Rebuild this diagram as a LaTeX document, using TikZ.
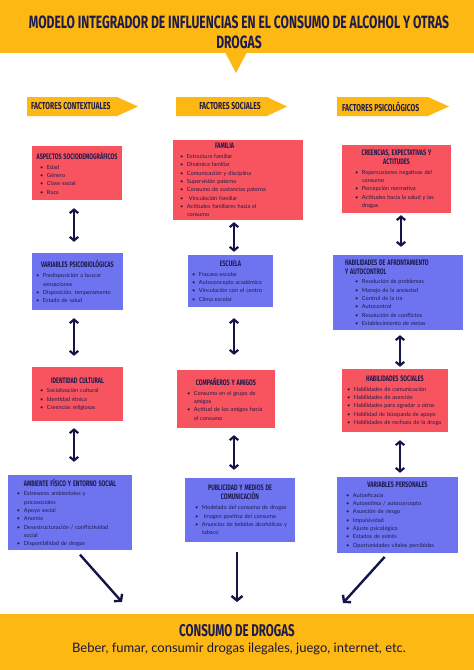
\documentclass[tikz,border=0pt]{standalone}
\usepackage{fontspec}
\setmainfont{Lato}
\newfontfamily\hand[FakeStretch=0.68]{Fira Sans}
\usetikzlibrary{arrows.meta}
\definecolor{ylw}{HTML}{FDB813}
\definecolor{rd}{HTML}{F8545F}
\definecolor{bl}{HTML}{6E74F0}
\definecolor{nv}{HTML}{1E1B4D}
\definecolor{arrc}{HTML}{131447}
\newlength\bind
\newcommand\itm[1]{\hangindent=\dimexpr\bind+7pt\relax\hangafter=1\hspace*{\bind}\makebox[7pt][l]{\textbullet}#1\par}
\newcommand\btc[1]{{\centering\hand\bfseries\fontsize{8}{9}\selectfont #1\par}\vspace{1.5pt}}
\newcommand\btl[2]{{\hand\bfseries\fontsize{8}{9}\selectfont\hspace*{#1}#2\par}\vspace{1.5pt}}
\tikzset{
  box/.style={inner xsep=4pt, inner ysep=3pt, align=left, text=nv,
    font=\fontsize{5.6}{8.3}\selectfont,
    execute at begin node=\setlength{\parindent}{0pt}},
  hdr/.style={text=nv, font=\hand\bfseries\fontsize{10}{11}\selectfont, inner sep=0pt},
  dar/.style={draw=arrc, line width=2.2pt, {Straight Barb[length=3.5pt,width=8.5pt]}-{Straight Barb[length=3.5pt,width=8.5pt]}},
  bar/.style={draw=arrc, line width=2.4pt, -{Straight Barb[length=4.5pt,width=11pt]}}
}
\begin{document}
\begin{tikzpicture}[x=1pt,y=-1pt]
\useasboundingbox (0,0) rectangle (474,670);
\fill[white] (0,0) rectangle (474,670);
% header
\fill[ylw] (0,0) rectangle (474,53);
\fill[ylw] (225,52) -- (247,52) -- (236,73) -- cycle;
\node[text=nv, align=center, font=\hand\bfseries\fontsize{17.8}{20}\selectfont] (title) at (239,32)
  {MODELO INTEGRADOR DE INFLUENCIAS EN EL CONSUMO DE ALCOHOL Y OTRAS\\DROGAS};
% column headers
\fill[ylw] (27,97) -- (117,97) -- (138,106.5) -- (117,116) -- (27,116) -- cycle;
\fill[ylw] (176,97) -- (267,97) -- (287,106.5) -- (267,116) -- (176,116) -- cycle;
\fill[ylw] (337,97) -- (428,97) -- (449,106.5) -- (428,116) -- (337,116) -- cycle;
\node[hdr, anchor=west] (h1) at (31,106.5) {FACTORES CONTEXTUALES};
\node[hdr] (h2) at (230,106.5) {FACTORES SOCIALES};
\node[hdr, anchor=west] (h3) at (342,106.5) {FACTORES PSICOLÓGICOS};
% left column
\node[box, fill=rd, minimum width=90pt, minimum height=54pt, text width=82pt] (a1) at (77,173)
  {\btc{ASPECTOS SOCIODEMOGRÁFICOS}\setlength\bind{4pt}\itm{Edad}\itm{Género}\itm{Clase social}\itm{Raza}};
\node[box, fill=bl, minimum width=91pt, minimum height=57pt, text width=83pt] (a2) at (77.5,281.5)
  {\btc{VARIABLES PSICOBIOLÓGICAS}\setlength\bind{0pt}\itm{Predisposición a buscar\newline sensaciones}\itm{Disposición, temperamento}\itm{Estado de salud}};
\node[box, fill=rd, minimum width=91pt, minimum height=54pt, text width=83pt] (a3) at (77.5,394)
  {\btc{IDENTIDAD CULTURAL}\setlength\bind{4pt}\itm{Socialización cultural}\itm{Identidad étnica}\itm{Creencias religiosas}};
\node[box, fill=bl, minimum width=124pt, minimum height=75pt, text width=116pt] (a4) at (70,512.5)
  {\btc{AMBIENTE FÍSICO Y ENTORNO SOCIAL}\setlength\bind{5pt}\itm{Estresores ambientales y\newline psicosociales}\itm{Apoyo social}\itm{Anomia}\itm{Desestructuración / conflictividad\newline social}\itm{Disponibilidad de drogas}};
% middle column
\node[box, fill=rd, minimum width=130pt, minimum height=80pt, text width=122pt] (b1) at (238,180)
  {\btl{38pt}{FAMILIA}\setlength\bind{3pt}\itm{Estructura familiar}\itm{Dinámica familiar}\itm{Comunicación y disciplina}\itm{Supervisión paterna}\itm{Consumo de sustancias paterna}\itm{ Vinculación familiar}\itm{Actitudes familiares hacia el\newline consumo}};
\node[box, fill=bl, minimum width=85pt, minimum height=52pt, text width=77pt] (b2) at (230.5,281)
  {\btc{ESCUELA}\setlength\bind{0pt}\itm{Fracaso escolar}\itm{Autoconcepto académico}\itm{Vinculación con el centro}\itm{Clima escolar}};
\node[box, fill=rd, minimum width=98pt, minimum height=58pt, text width=90pt] (b3) at (226,399)
  {\btc{COMPAÑEROS Y AMIGOS}\setlength\bind{6pt}\itm{Consumo en el grupo de\newline amigos}\itm{Actitud de los amigos hacia\newline el consumo}};
\node[box, fill=bl, minimum width=110pt, minimum height=64pt, text width=102pt] (b4) at (240,510)
  {\btc{PUBLICIDAD Y MEDIOS DE\\COMUNICACIÓN}\setlength\bind{6pt}\itm{Modelado del consumo de drogas}\itm{ Imagen positiva del consumo}\itm{Anuncios de bebidas alcohólicas y\newline tabaco}};
% right column
\node[box, fill=rd, minimum width=109pt, minimum height=68pt, text width=101pt] (c1) at (396.5,179)
  {\btc{CREENCIAS, EXPECTATIVAS Y\\ACTITUDES}\setlength\bind{9pt}\itm{Repercusiones negativas del\newline consumo}\itm{Percepción normativa}\itm{Actitudes hacia la salud y las\newline drogas}};
\node[box, fill=bl, minimum width=130pt, minimum height=75pt, text width=122pt] (c2) at (398,292.5)
  {\btl{8pt}{HABILIDADES DE AFRONTAMIENTO\\\hspace*{8pt}Y AUTOCONTROL}\setlength\bind{18pt}\itm{Resolución de problemas}\itm{Manejo de la ansiedad}\itm{Control de la ira}\itm{Autocontrol}\itm{Resolución de conflictos}\itm{Establecimiento de metas}};
\node[box, fill=rd, minimum width=106pt, minimum height=63pt, text width=98pt] (c3) at (395,400.5)
  {\btc{HABILIDADES SOCIALES}\setlength\bind{1pt}\itm{Habilidades de comunicación}\itm{Habilidades de aserción}\itm{Habilidades para agradar a otros}\itm{Habilidad de búsqueda de apoyo}\itm{Habilidades de rechazo de la droga}};
\node[box, fill=bl, minimum width=121pt, minimum height=76pt, text width=113pt] (c4) at (397.5,515)
  {\btc{VARIABLES PERSONALES}\setlength\bind{5pt}\itm{Autoeficacia}\itm{Autoestima / autoconcepto}\itm{Asunción de riesgo}\itm{Impulsividad}\itm{Ajuste psicológico}\itm{Estados de estrés}\itm{Oportunidades vitales percibidas}};
% double arrows
\draw[dar, shorten <=8pt, shorten >=11pt] ([xshift=-3pt]a1.south) -- ([xshift=-3pt]a1.south |- a2.north);
\draw[dar, shorten <=8pt, shorten >=11pt] ([xshift=-3.5pt]a2.south) -- ([xshift=-3.5pt]a2.south |- a3.north);
\draw[dar, shorten <=7pt, shorten >=13pt] ([xshift=-3.5pt]a3.south) -- ([xshift=-3.5pt]a3.south |- a4.north);
\draw[dar, shorten <=2pt, shorten >=3pt] ([xshift=-4pt]b1.south) -- ([xshift=-4pt]b1.south |- b2.north);
\draw[dar, shorten <=11pt, shorten >=15pt] ([xshift=3.5pt]b2.south) -- ([xshift=3.5pt]b2.south |- b3.north);
\draw[dar, shorten <=7pt, shorten >=8pt] ([xshift=8pt]b3.south) -- ([xshift=8pt]b3.south |- b4.north);
\draw[dar, shorten <=2pt, shorten >=8pt] ([xshift=4.5pt]c1.south) -- ([xshift=4.5pt]c1.south |- c2.north);
\draw[dar, shorten <=5pt, shorten >=2pt] ([xshift=2pt]c2.south) -- ([xshift=2pt]c2.south |- c3.north);
\draw[dar, shorten <=8pt, shorten >=4pt] ([xshift=5pt]c3.south) -- ([xshift=5pt]c3.south |- c4.north);
% bottom band
\fill[ylw] (0,614) rectangle (474,670);
\node[text=nv, font=\hand\bfseries\fontsize{17}{19}\selectfont] (bt1) at (237,631) {CONSUMO DE DROGAS};
\node[text=nv!80!black, font=\fontsize{13}{15}\selectfont] (bt2) at (239,649) {Beber, fumar, consumir drogas ilegales, juego, internet, etc.};
% arrows to result
\coordinate (hl) at (122,602);
\coordinate (hm) at (237,602);
\coordinate (hr) at (343,603);
\draw[bar, shorten <=6pt] ([xshift=6pt]a4.south) -- (hl);
\draw[bar, shorten <=10pt] ([xshift=-3pt]b4.south) -- (hm);
\draw[bar, shorten <=5pt] ([xshift=-9.5pt]c4.south) -- (hr);
\end{tikzpicture}
\end{document}
